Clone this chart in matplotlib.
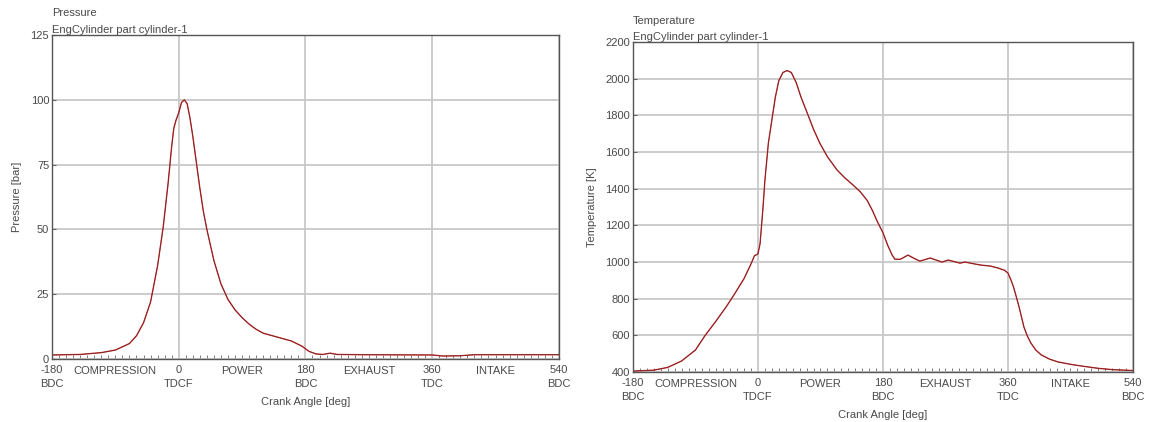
import matplotlib
matplotlib.use("Agg")
import matplotlib.pyplot as plt
from matplotlib.ticker import MultipleLocator

plt.rcParams['font.family'] = ['Liberation Sans', 'DejaVu Sans']
plt.rcParams['font.size'] = 8
plt.rcParams['text.color'] = '#4a4a4a'
plt.rcParams['axes.labelcolor'] = '#4a4a4a'
plt.rcParams['xtick.color'] = '#4a4a4a'
plt.rcParams['ytick.color'] = '#4a4a4a'

# crank angle tick labels
x_ticks = [-180, 0, 180, 360, 540]
x_tick_labels = ['-180\nBDC', '0\nTDCF', '180\nBDC', '360\nTDC', '540\nBDC']
phase_pos = [-90, 90, 270, 450]
phase_names = ['COMPRESSION', 'POWER', 'EXHAUST', 'INTAKE']

# pressure curve (bar)
p_angle = [-180, -140, -110, -90, -70, -60, -50, -40, -30, -22, -15, -10, -7, -4, 0,
           4, 8, 12, 16, 20, 25, 30, 35, 40, 50, 60, 70, 80, 90, 100, 110, 120,
           140, 160, 175, 185, 195, 205, 215, 225, 260, 360, 375, 400, 420, 540]
p_bar = [1.6, 1.8, 2.5, 3.5, 6.0, 9.0, 14.0, 22.0, 36.0, 51.0, 68.0, 82.0, 89.0, 92.0, 95.0,
         99.0, 100.0, 98.5, 93.0, 86.0, 76.0, 66.0, 57.0, 50.0, 38.0, 29.0, 23.0, 19.0, 16.0, 13.5, 11.5, 10.0,
         8.5, 7.0, 5.0, 3.0, 2.0, 1.8, 2.3, 1.8, 1.7, 1.6, 1.2, 1.3, 1.7, 1.7]

# temperature curve (K)
t_angle = [-180, -150, -130, -110, -90, -76, -60, -45, -33, -20, -10, -5, -2, 0, 3, 7, 10,
           15, 20, 25, 30, 36, 42, 48, 55, 62, 71, 80, 89, 100, 114, 125, 137, 147, 157,
           165, 172, 180, 187, 193, 197, 205, 216, 225, 233, 248, 265, 274, 291, 298,
           320, 335, 346, 355, 360, 364, 368, 372, 376, 383, 388, 393, 400, 408, 420,
           432, 450, 465, 490, 510, 540]
t_kelvin = [405, 410, 425, 460, 520, 600, 680, 760, 830, 910, 990, 1035, 1040, 1045, 1100, 1284, 1447,
            1650, 1775, 1900, 1990, 2035, 2045, 2035, 1980, 1900, 1813, 1725, 1649, 1575, 1502, 1460, 1420, 1385, 1338,
            1280, 1220, 1160, 1090, 1040, 1016, 1015, 1038, 1020, 1005, 1022, 1000, 1011, 994, 1000,
            984, 978, 967, 955, 940, 905, 864, 810, 755, 645, 595, 558, 520, 493, 470,
            455, 442, 433, 420, 413, 408]

fig = plt.figure(figsize=(11.5, 4.22), dpi=100)
ax1 = fig.add_axes([0.0452, 0.149, 0.4408, 0.768])
ax2 = fig.add_axes([0.5504, 0.1185, 0.4348, 0.7815])


def style_axis(ax, ymin, ymax, ystep, ylabel, title):
    ax.set_xlim(-180, 540)
    ax.set_ylim(ymin, ymax)
    ax.set_xticks(x_ticks)
    ax.set_xticklabels(x_tick_labels, linespacing=1.5)
    ax.xaxis.set_minor_locator(MultipleLocator(10))
    ax.yaxis.set_major_locator(MultipleLocator(ystep))
    ax.tick_params(axis='x', which='major', length=0, pad=4)
    ax.tick_params(axis='x', which='minor', direction='in', length=3, color='#666666')
    ax.tick_params(axis='y', which='major', direction='in', length=3, pad=2, color='#666666')
    ax.grid(True, which='major', color='#c8c8c8', linewidth=1.3)
    for s in ax.spines.values():
        s.set_color('#555555')
        s.set_linewidth(1.0)
    ax.set_ylabel(ylabel, labelpad=6)
    ax.set_xlabel('Crank Angle [deg]', labelpad=6)
    tr = ax.get_xaxis_transform()
    for pos, name in zip(phase_pos, phase_names):
        ax.text(pos, -0.022, name, transform=tr, ha='center', va='top')
    # two-line heading above the plot
    ax.text(0, 1.0, 'EngCylinder part cylinder-1', transform=ax.transAxes,
            ha='left', va='bottom')
    ax.annotate(title, xy=(0, 1.0), xycoords='axes fraction', xytext=(0, 12),
                textcoords='offset points', ha='left', va='bottom')


style_axis(ax1, 0, 125, 25, 'Pressure [bar]', 'Pressure')
ax1.plot(p_angle, p_bar, color='#d03030', linewidth=1.0)
ax1.plot(p_angle, p_bar, color='#5a2020', linewidth=0.5, alpha=0.8)

style_axis(ax2, 400, 2200, 200, 'Temperature [K]', 'Temperature')
ax2.plot(t_angle, t_kelvin, color='#d03030', linewidth=1.0)
ax2.plot(t_angle, t_kelvin, color='#5a2020', linewidth=0.5, alpha=0.8)

fig.savefig('out.png', dpi=100)
